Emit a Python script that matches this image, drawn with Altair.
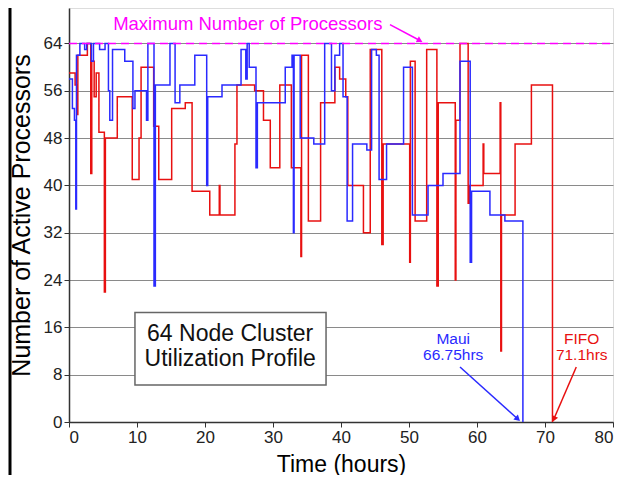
import altair as alt
import pandas as pd

# ---- data ----
maui_t = [0, 0.5, 0.8, 1.0, 1.1, 1.6, 2.3, 2.6, 3.3, 3.6, 4.5, 5.3, 5.8, 6.0, 6.4, 8.2, 9.4, 9.7, 11.4, 11.6,
          12.5, 12.7, 14.85, 15.6, 16.3, 18.5, 20.25, 20.4, 22.5, 25.3, 26.0, 26.2, 26.5, 27.5, 27.7, 31.8,
          32.8, 33.0, 33.1, 34.0, 36.0, 37.6, 38.6, 39.1, 39.8, 40.3, 40.9, 41.7, 43.8, 44.5, 45.2, 45.6,
          46.7, 49.2, 50.5, 52.8, 55.0, 57.5, 59.0, 59.2, 61.9, 64.1, 66.75]
maui_n = [58, 53, 51, 36, 62, 64, 63, 64, 61, 64, 63, 64, 56, 51, 63, 61, 53, 56, 51, 64,
          23, 57, 64, 54, 57, 62, 40, 55, 57, 63, 58, 64, 60, 43, 54, 60,
          62, 32, 62, 48, 47, 64, 56, 62, 64, 55, 34, 47, 46, 63, 62, 41,
          47, 60, 35, 40, 42, 61, 27, 39, 35, 34, 0]

fifo_t = [0, 0.9, 1.2, 1.3, 2.7, 3.2, 3.35, 3.7, 4.0, 4.4, 5.2, 5.35, 7.1, 9.3, 10.3, 10.6, 12.45, 13.2,
          15.1, 17.1, 18.1, 20.7, 22.1, 22.2, 24.4, 24.7, 27.3, 28.6, 29.6, 31.0, 32.7, 34.1, 34.2, 35.2,
          37.0, 39.1, 39.8, 40.7, 41.0, 43.3, 44.3, 46.0, 46.2, 50.1, 50.2, 50.9, 52.6, 54.1, 54.3, 56.8,
          56.9, 57.5, 58.7, 58.9, 60.9, 61.0, 63.4, 63.5, 63.6, 65.6, 68.0, 71.1]
fifo_n = [59, 57, 52, 62, 64, 42, 61, 55, 59, 49, 22, 48, 55, 41, 48, 60, 50, 41,
          53, 54, 39, 35, 40, 35, 47, 57, 56, 51, 43, 57, 43, 28, 62, 34,
          54, 60, 58, 55, 40, 32, 63, 30, 47, 27, 61, 34, 63, 23, 54, 24,
          51, 64, 37, 40, 47, 42, 54, 12, 35, 47, 57, 0]

x_ticks = [0, 10, 20, 30, 40, 50, 60, 70, 80]
y_ticks = [0, 8, 16, 24, 32, 40, 48, 56, 64]
max_procs = 64

# annotation texts and anchor points (data units)
title_lines = ["64 Node Cluster", "Utilization Profile"]
title_t = [23.7, 23.7]
title_n = [14.9, 10.6]
box = {"t": [9.7], "t2": [37.8], "n": [6.26], "n2": [18.5]}

label_text = ["Maximum Number of Processors", "Maui", "66.75hrs", "FIFO", "71.1hrs"]
label_t = [26.3, 56.5, 56.5, 75.4, 75.4]
label_n = [67.3, 14.1, 11.3, 14.1, 11.3]
label_col = ["#ff00ff", "#2a2aff", "#2a2aff", "#e81010", "#e81010"]
label_size = [18.5, 15.5, 15.5, 15.5, 15.5]

arrow_t = [47.2, 57.5, 74.6]
arrow_n = [67.2, 9.3, 9.3]
arrow_t2 = [51.6, 66.0, 71.3]
arrow_n2 = [64.5, 0.5, 0.5]
arrow_col = ["#ff00ff", "#2a2aff", "#e81010"]
arrow_ang = [118, 132, 203]

FONT = "Liberation Sans"

maui_df = pd.DataFrame({"t": maui_t, "n": maui_n})
fifo_df = pd.DataFrame({"t": fifo_t, "n": fifo_n})

xs = alt.Scale(domain=[0, 80], nice=False)
ys = alt.Scale(domain=[0, 70], nice=False)

xaxis = alt.Axis(values=x_ticks, title="Time (hours)", grid=False, labelFontSize=17, titleFontSize=23,
                 titleFontWeight="normal", labelFont=FONT, titleFont=FONT, tickSize=5, labelPadding=2,
                 titlePadding=8, domainColor="#333", tickColor="#333", labelColor="#222", titleColor="#000",
                 domainWidth=1.5)
yaxis = alt.Axis(values=y_ticks, title="Number of Active Processors", grid=True, gridColor="#8a8a8a",
                 gridWidth=1, labelFontSize=17, titleFontSize=25, titleFontWeight="normal", labelFont=FONT,
                 titleFont=FONT, tickSize=5, labelPadding=2, titlePadding=9, domainColor="#333",
                 tickColor="#333", labelColor="#222", titleColor="#000", domainWidth=1.5)

fifo = alt.Chart(fifo_df).mark_line(interpolate="step-after", color="#e81010", strokeWidth=1.5).encode(
    x=alt.X("t:Q", scale=xs, axis=xaxis),
    y=alt.Y("n:Q", scale=ys, axis=yaxis),
)
maui = alt.Chart(maui_df).mark_line(interpolate="step-after", color="#2a2aff", strokeWidth=1.5).encode(
    x=alt.X("t:Q", scale=xs), y=alt.Y("n:Q", scale=ys)
)

max_df = pd.DataFrame({"t": [0], "t2": [80], "n": [max_procs]})
max_line = alt.Chart(max_df).mark_rule(color="#ff00ff", strokeWidth=1.5, strokeDash=[8, 5]).encode(
    x="t:Q", x2="t2:Q", y="n:Q"
)

box_rect = alt.Chart(pd.DataFrame(box)).mark_rect(fill="white", stroke="#666", strokeWidth=1.5).encode(
    x="t:Q", x2="t2:Q", y="n:Q", y2="n2:Q"
)
title_df = pd.DataFrame({"t": title_t, "n": title_n, "txt": title_lines})
title_txt = alt.Chart(title_df).mark_text(font=FONT, fontSize=23, color="#111", align="center",
                                          baseline="middle").encode(x="t:Q", y="n:Q", text="txt:N")

lab_df = pd.DataFrame({"t": label_t, "n": label_n, "txt": label_text, "c": label_col, "s": label_size})
labels = alt.Chart(lab_df).mark_text(font=FONT, align="center", baseline="middle").encode(
    x="t:Q", y="n:Q", text="txt:N", color=alt.Color("c:N", scale=None), size=alt.Size("s:Q", scale=None)
)

arr_df = pd.DataFrame({"t": arrow_t, "n": arrow_n, "t2": arrow_t2, "n2": arrow_n2, "c": arrow_col,
                       "a": arrow_ang})
arr_lines = alt.Chart(arr_df).mark_rule(strokeWidth=1.5).encode(
    x="t:Q", y="n:Q", x2="t2:Q", y2="n2:Q", color=alt.Color("c:N", scale=None)
)
arr_heads = alt.Chart(arr_df).mark_point(shape="triangle-up", filled=True, size=45, opacity=1).encode(
    x="t2:Q", y="n2:Q", angle=alt.Angle("a:Q", scale=None), color=alt.Color("c:N", scale=None)
)

left_bar = alt.Chart(max_df).mark_rule(color="black", strokeWidth=3).encode(
    x=alt.value(-59), y=alt.value(0), y2=alt.value(481)
)

chart = alt.layer(fifo, maui, max_line, box_rect, title_txt, labels, arr_lines, arr_heads, left_bar).properties(
    width=544, height=414,
    autosize=alt.AutoSizeParams(type="none"),
    padding={"left": 61, "top": 0, "right": 3, "bottom": 53},
).configure_view(stroke="#777", strokeWidth=2).configure(background="white")

chart.save("out.html", embed_options={"renderer": "svg", "actions": False})
